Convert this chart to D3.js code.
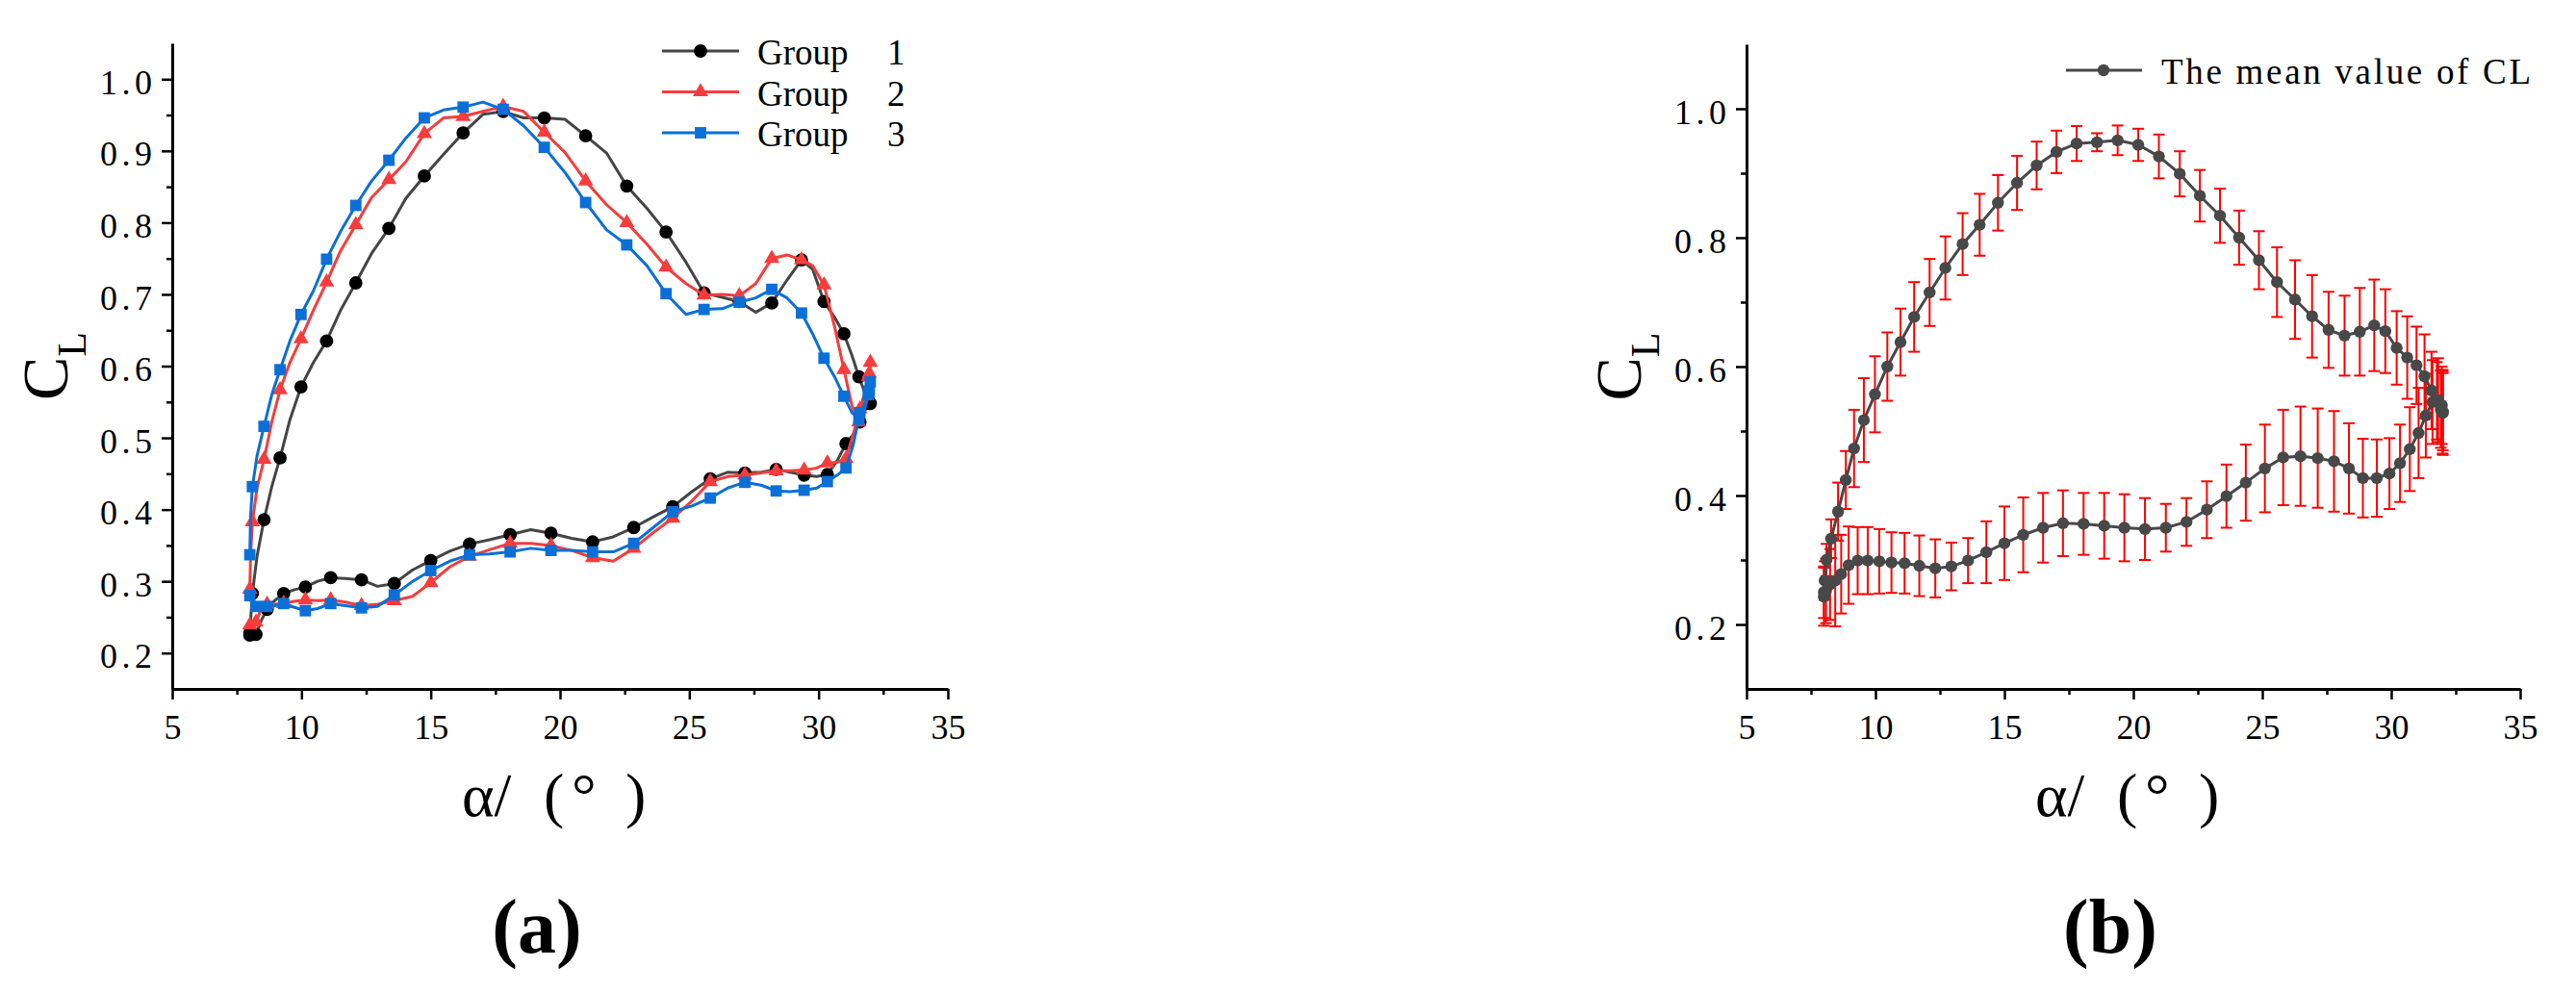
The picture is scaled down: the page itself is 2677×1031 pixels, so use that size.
<!DOCTYPE html>
<html>
<head>
<meta charset="utf-8">
<script src="https://cdn.jsdelivr.net/npm/d3@7"></script>
<style>
body{margin:0;background:#fff}
svg{display:block}
text{font-family:"Liberation Serif","DejaVu Serif",serif;fill:#000}
</style>
</head>
<body>
<script>
// angle of attack samples, upstroke (8 -> 32) and downstroke (32 -> 8)
var alphaUp = [8.00,8.03,8.10,8.28,8.55,8.85,9.17,9.55,9.98,10.46,10.97,11.50,12.10,12.71,13.38,14.04,14.75,15.49,16.25,17.02,17.80,18.59,19.39,20.19,20.99,21.80,22.58,23.36,24.10,24.87,25.57,26.27,26.93,27.57,28.19,28.78,29.34,29.77,30.21,30.62,30.98,31.29,31.56,31.77,31.92,31.99,32.00];
var alphaDown = [32.00,31.96,31.82,31.60,31.34,31.06,30.72,30.34,29.93,29.44,28.90,28.36,27.78,27.15,26.48,25.81,25.10,24.36,23.61,22.85,22.06,21.26,20.45,19.65,18.87,18.07,17.27,16.50,15.73,15.00,14.30,13.59,12.94,12.32,11.70,11.13,10.62,10.15,9.70,9.31,8.96,8.67,8.44,8.24,8.08,8.00];

var group1Up = [0.228,0.245,0.283,0.335,0.386,0.432,0.472,0.525,0.571,0.605,0.635,0.677,0.716,0.757,0.792,0.834,0.865,0.895,0.925,0.951,0.955,0.946,0.946,0.944,0.921,0.897,0.851,0.820,0.787,0.745,0.702,0.696,0.690,0.675,0.688,0.720,0.748,0.735,0.690,0.668,0.645,0.615,0.585,0.565,0.553,0.550,0.548];
var group1Down = [0.550,0.548,0.540,0.522,0.505,0.492,0.468,0.449,0.446,0.448,0.452,0.456,0.452,0.451,0.452,0.443,0.425,0.404,0.390,0.375,0.362,0.355,0.360,0.367,0.372,0.365,0.358,0.352,0.342,0.329,0.316,0.297,0.293,0.302,0.304,0.305,0.300,0.292,0.288,0.283,0.273,0.261,0.245,0.226,0.225,0.225];
var group2Up = [0.289,0.335,0.383,0.430,0.470,0.522,0.567,0.605,0.638,0.678,0.717,0.760,0.797,0.835,0.860,0.885,0.924,0.946,0.948,0.955,0.962,0.955,0.926,0.898,0.858,0.825,0.800,0.770,0.738,0.715,0.699,0.700,0.698,0.715,0.750,0.755,0.748,0.740,0.713,0.655,0.595,0.545,0.522,0.545,0.585,0.600,0.605];
var group2Down = [0.600,0.590,0.565,0.540,0.505,0.471,0.466,0.465,0.458,0.455,0.454,0.454,0.451,0.448,0.446,0.439,0.412,0.388,0.368,0.346,0.328,0.333,0.343,0.350,0.353,0.353,0.344,0.335,0.320,0.298,0.279,0.273,0.268,0.266,0.271,0.274,0.273,0.274,0.272,0.269,0.268,0.268,0.262,0.243,0.239,0.239];
var group3Up = [0.337,0.390,0.432,0.475,0.516,0.560,0.595,0.635,0.672,0.705,0.749,0.787,0.824,0.858,0.887,0.918,0.946,0.957,0.961,0.968,0.958,0.935,0.905,0.870,0.828,0.790,0.769,0.740,0.701,0.672,0.679,0.680,0.689,0.695,0.707,0.695,0.674,0.645,0.611,0.585,0.558,0.535,0.526,0.538,0.560,0.575,0.578];
var group3Down = [0.575,0.565,0.550,0.535,0.490,0.458,0.448,0.439,0.430,0.427,0.425,0.426,0.434,0.438,0.430,0.416,0.405,0.397,0.375,0.353,0.341,0.341,0.343,0.343,0.346,0.341,0.338,0.337,0.328,0.315,0.300,0.281,0.265,0.263,0.266,0.269,0.262,0.259,0.264,0.269,0.266,0.265,0.265,0.265,0.268,0.280];

var meanUp = [0.250,0.268,0.300,0.333,0.375,0.424,0.473,0.517,0.557,0.600,0.638,0.677,0.715,0.753,0.790,0.820,0.854,0.885,0.912,0.933,0.946,0.948,0.951,0.944,0.926,0.899,0.865,0.834,0.800,0.765,0.731,0.704,0.678,0.657,0.648,0.654,0.664,0.655,0.629,0.614,0.602,0.585,0.563,0.547,0.534,0.530,0.528];
var meanDown = [0.530,0.540,0.548,0.545,0.524,0.497,0.472,0.450,0.434,0.427,0.427,0.442,0.453,0.458,0.461,0.459,0.442,0.420,0.399,0.378,0.359,0.350,0.348,0.350,0.353,0.356,0.357,0.350,0.339,0.326,0.312,0.299,0.290,0.287,0.291,0.295,0.296,0.298,0.299,0.299,0.292,0.278,0.268,0.262,0.252,0.243];
var errUp = [0.040,0.030,0.025,0.030,0.045,0.045,0.060,0.065,0.059,0.053,0.052,0.054,0.052,0.049,0.048,0.048,0.043,0.042,0.037,0.033,0.027,0.014,0.023,0.025,0.034,0.035,0.040,0.042,0.042,0.045,0.054,0.061,0.064,0.059,0.062,0.068,0.071,0.065,0.057,0.064,0.060,0.065,0.060,0.060,0.060,0.065,0.065];
var errDown = [0.060,0.060,0.065,0.065,0.065,0.070,0.065,0.060,0.055,0.060,0.061,0.070,0.078,0.077,0.077,0.074,0.068,0.059,0.049,0.044,0.037,0.037,0.048,0.052,0.051,0.048,0.051,0.054,0.058,0.057,0.048,0.035,0.037,0.045,0.047,0.047,0.047,0.050,0.052,0.052,0.060,0.061,0.071,0.055,0.050,0.045];

var groupNames = ["Group", "Group", "Group"];
var groupNumbers = ["1", "2", "3"];
var meanName = "The mean value of CL";
var xMajor = [5,10,15,20,25,30,35];
var xMinor = [7.5,12.5,17.5,22.5,27.5,32.5];
var yMajorA = [0.2,0.3,0.4,0.5,0.6,0.7,0.8,0.9,1.0];
var yMinorA = [0.25,0.35,0.45,0.55,0.65,0.75,0.85,0.95];
var yMajorB = [0.2,0.4,0.6,0.8,1.0];
var yMinorB = [0.3,0.5,0.7,0.9];

var svg = d3.select("body").append("svg")
    .attr("width", 2677).attr("height", 1031);

var xA = d3.scaleLinear().domain([5,35]).range([179,985]);
var yA = d3.scaleLinear().domain([0.15,1.05]).range([716,45]);
var xB = d3.scaleLinear().domain([5,35]).range([1815,2619]);
var yB = d3.scaleLinear().domain([0.1,1.1]).range([716,46]);

function drawAxes(x, y, yMajor, yMinor) {
    var bottom = y.range()[0], left = x.range()[0];
    var gx = svg.append("g").attr("transform", "translate(0," + bottom + ")")
        .call(d3.axisBottom(x).tickValues(xMajor).tickSize(11).tickSizeOuter(0)
            .tickPadding(15).tickFormat(d3.format("d")));
    var gxm = svg.append("g").attr("transform", "translate(0," + bottom + ")")
        .call(d3.axisBottom(x).tickValues(xMinor).tickSize(6).tickFormat(""));
    gxm.select(".domain").remove();
    var gy = svg.append("g").attr("transform", "translate(" + left + ",0)")
        .call(d3.axisLeft(y).tickValues(yMajor).tickSize(11).tickSizeOuter(0)
            .tickPadding(10).tickFormat(d3.format(".1f")));
    var gym = svg.append("g").attr("transform", "translate(" + left + ",0)")
        .call(d3.axisLeft(y).tickValues(yMinor).tickSize(6).tickFormat(""));
    gym.select(".domain").remove();
    [gx, gxm, gy, gym].forEach(function(g){
        g.attr("font-family", null).attr("font-size", null);
        g.selectAll(".domain").attr("stroke", "#000").attr("stroke-width", 3);
        g.selectAll(".tick line").attr("stroke", "#000").attr("stroke-width", 2.5);
        g.selectAll(".tick text").style("font-size", "36px").attr("fill", "#000");
    });
    gy.selectAll(".tick text").attr("dy", "0.42em")
        .attr("textLength", 54).attr("lengthAdjust", "spacing");
}

function axisTitles(x, y, cLx) {
    var cx = (x.range()[0] + x.range()[1]) / 2;
    var cy = (y.range()[0] + y.range()[1]) / 2;
    var t = svg.append("text").attr("y", 848).style("font-size", "64px");
    t.append("tspan").attr("x", cx - 102).text("α/");
    t.append("tspan").attr("x", cx - 17).text("(");
    t.append("tspan").attr("x", cx + 12).text("°");
    t.append("tspan").attr("x", cx + 68).text(")");
    var c = svg.append("text")
        .attr("transform", "translate(" + cLx + "," + cy + ") rotate(-90)")
        .attr("text-anchor", "middle");
    c.append("tspan").style("font-size", "68px").text("C");
    c.append("tspan").style("font-size", "42px").attr("dy", 19).text("L");
}

// (a) three groups
drawAxes(xA, yA, yMajorA, yMinorA);
axisTitles(xA, yA, 70);

var groups = [
    {up: group1Up, down: group1Down, line: "#454545", fill: "#000", symbol: d3.symbolCircle, size: 150},
    {up: group2Up, down: group2Down, line: "#f63c3c", fill: "#f63c3c", symbol: d3.symbolTriangle, size: 110},
    {up: group3Up, down: group3Down, line: "#0b6fd8", fill: "#0b6fd8", symbol: d3.symbolSquare, size: 140}
];
var alphaLoop = alphaUp.concat(alphaDown);
var lineA = d3.line().x(function(d){return xA(d[0]);}).y(function(d){return yA(d[1]);});

groups.forEach(function(g, k){
    var pts = alphaLoop.map(function(a, i){ return [a, g.up.concat(g.down)[i]]; });
    svg.append("path").datum(pts)
        .attr("d", lineA).attr("fill", "none")
        .attr("stroke", g.line).attr("stroke-width", 3).attr("stroke-linejoin", "round");
    svg.append("g").selectAll("path")
        .data(pts.filter(function(d, i){ return i % 2 === 0; }))
        .enter().append("path")
        .attr("d", d3.symbol().type(g.symbol).size(g.size))
        .attr("transform", function(d){ return "translate(" + xA(d[0]) + "," + yA(d[1]) + ")"; })
        .attr("fill", g.fill);
    // legend
    var ly = 53 + k * 42.5;
    svg.append("line").attr("x1", 688).attr("x2", 768).attr("y1", ly).attr("y2", ly)
        .attr("stroke", g.line).attr("stroke-width", 3);
    svg.append("path").attr("d", d3.symbol().type(g.symbol).size(g.size))
        .attr("transform", "translate(728," + ly + ")").attr("fill", g.fill);
    var lt = svg.append("text").attr("y", ly + 14).style("font-size", "37px");
    lt.append("tspan").attr("x", 787).text(groupNames[k]);
    lt.append("tspan").attr("x", 922).text(groupNumbers[k]);
});

svg.append("text").attr("x", 558).attr("y", 990).attr("text-anchor", "middle")
    .style("font-size", "80px").style("font-weight", "bold").text("(a)");

// (b) mean value with error bars
drawAxes(xB, yB, yMajorB, yMinorB);
axisTitles(xB, yB, 1705);

var meanPts = alphaLoop.map(function(a, i){
    return {a: a, m: meanUp.concat(meanDown)[i], e: errUp.concat(errDown)[i]};
});
var bars = svg.append("g").attr("stroke", "#ff0000").attr("stroke-width", 2);
meanPts.forEach(function(d){
    var x = xB(d.a), y1 = yB(d.m - d.e), y2 = yB(d.m + d.e);
    bars.append("line").attr("x1", x).attr("x2", x).attr("y1", y1).attr("y2", y2);
    bars.append("line").attr("x1", x - 6).attr("x2", x + 6).attr("y1", y1).attr("y2", y1);
    bars.append("line").attr("x1", x - 6).attr("x2", x + 6).attr("y1", y2).attr("y2", y2);
});
svg.append("path").datum(meanPts)
    .attr("d", d3.line().x(function(d){return xB(d.a);}).y(function(d){return yB(d.m);}))
    .attr("fill", "none").attr("stroke", "#484848").attr("stroke-width", 3);
svg.append("g").selectAll("circle").data(meanPts).enter().append("circle")
    .attr("cx", function(d){return xB(d.a);})
    .attr("cy", function(d){return yB(d.m);})
    .attr("r", 6.2).attr("fill", "#484848");

svg.append("line").attr("x1", 2147).attr("x2", 2226).attr("y1", 73).attr("y2", 73)
    .attr("stroke", "#484848").attr("stroke-width", 3);
svg.append("circle").attr("cx", 2186).attr("cy", 73).attr("r", 6.2).attr("fill", "#484848");
svg.append("text").attr("x", 2246).attr("y", 87).style("font-size", "37px")
    .attr("textLength", 384).attr("lengthAdjust", "spacing").text(meanName);

svg.append("text").attr("x", 2193).attr("y", 990).attr("text-anchor", "middle")
    .style("font-size", "80px").style("font-weight", "bold").text("(b)");
</script>
</body>
</html>
